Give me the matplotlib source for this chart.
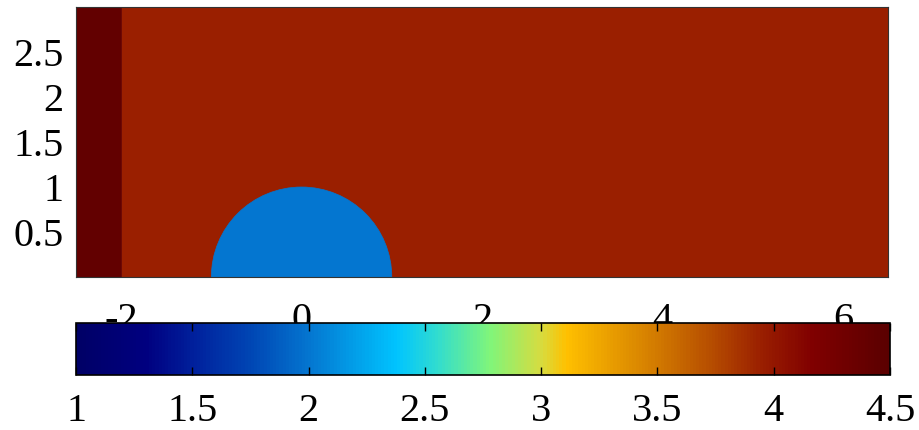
import numpy as np
import matplotlib
matplotlib.use("Agg")
import matplotlib.pyplot as plt
from matplotlib.patches import Rectangle, Wedge
from matplotlib.collections import PatchCollection
from matplotlib.colors import LinearSegmentedColormap, Normalize

# field values of the three regions
region_names = ["domain", "inlet strip", "obstacle"]
region_values = [3.95, 4.42, 2.0]

# geometry (x0, x1) of the domain and the strip, obstacle radius
domain_x = [-2.0, 6.5]
strip_x = [-2.5, -2.0]
domain_height = 3.0
obstacle_radius = 1.0

x_ticks = [-2, 0, 2, 4, 6]
y_ticks = [0.5, 1, 1.5, 2, 2.5]
cbar_ticks = [1, 1.5, 2, 2.5, 3, 3.5, 4, 4.5]

# colour map
cmap_values = [1.0, 1.3, 1.5, 1.75, 2.0, 2.38, 2.55, 2.78, 3.0, 3.11, 3.5, 3.75, 3.95, 4.17, 4.5]
cmap_colors = ["#000066", "#000080", "#00209c", "#0046b4", "#0476d0", "#00c4ff", "#30dcd0",
               "#80f57a", "#d6dc40", "#ffc000", "#d27a00", "#b44a00", "#9a1f00", "#800000", "#5a0000"]

if __name__ == '__main__':
    plt.rcParams['font.family'] = ['Liberation Serif', 'DejaVu Serif']
    plt.rcParams['font.size'] = 29
    plt.rcParams['axes.unicode_minus'] = False

    vmin, vmax = cmap_values[0], cmap_values[-1]
    pos = [(v - vmin) / (vmax - vmin) for v in cmap_values]
    cmap = LinearSegmentedColormap.from_list("field", list(zip(pos, cmap_colors)))
    norm = Normalize(vmin=vmin, vmax=vmax)

    fig = plt.figure(figsize=(9.19, 4.3), dpi=100)
    ax = fig.add_axes([0.0827, 0.3558, 0.8836, 0.6279])

    patches = [
        Rectangle((domain_x[0], 0), domain_x[1] - domain_x[0], domain_height),
        Rectangle((strip_x[0], 0), strip_x[1] - strip_x[0], domain_height),
        Wedge((0, 0), obstacle_radius, 0, 180),
    ]
    pc = PatchCollection(patches, cmap=cmap, norm=norm, edgecolor='face', linewidth=0.5)
    pc.set_array(np.array(region_values))
    ax.add_collection(pc)

    ax.set_xlim(strip_x[0], domain_x[1])
    ax.set_ylim(0, domain_height)
    ax.set_xticks(x_ticks)
    ax.set_yticks(y_ticks)
    ax.set_yticklabels(['%g' % t for t in y_ticks])
    ax.tick_params(axis='both', length=0)
    ax.tick_params(axis='x', pad=18)
    ax.tick_params(axis='y', pad=9)
    for border in ax.spines.values():
        border.set_color('#333333')
        border.set_linewidth(0.8)

    # colour bar underneath, covering the lower part of the x tick labels
    cax = fig.add_axes([0.0827, 0.128, 0.8857, 0.121])
    cax.set_zorder(5)
    cb = fig.colorbar(pc, cax=cax, orientation='horizontal', ticks=cbar_ticks)
    cb.ax.set_xticklabels(['%g' % t for t in cbar_ticks])
    cb.outline.set_linewidth(1.2)
    cb.ax.xaxis.set_ticks_position('both')
    cb.ax.tick_params(axis='x', direction='in', length=6, width=1, top=True, bottom=True,
                      labeltop=False, labelbottom=True, pad=13)

    fig.savefig("out.png", dpi=100)
